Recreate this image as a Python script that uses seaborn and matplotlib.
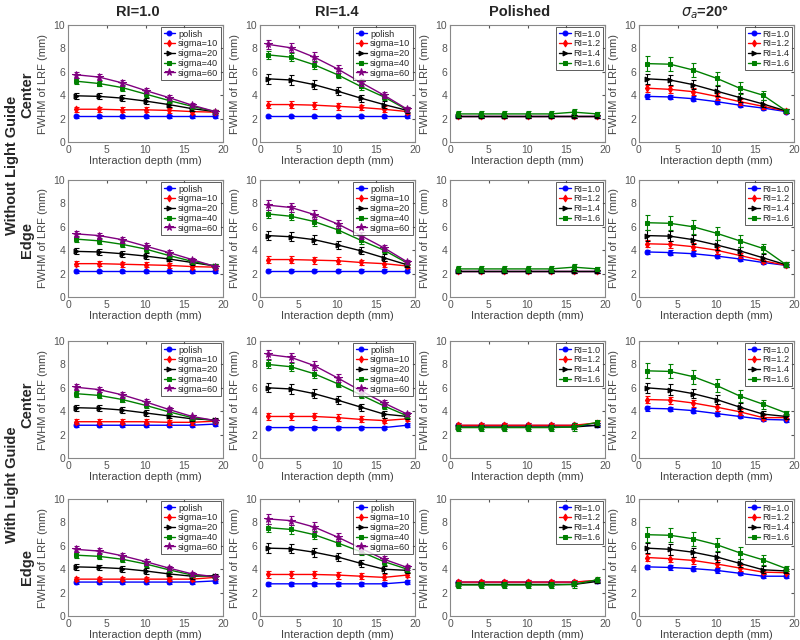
import numpy as np
import matplotlib
matplotlib.use("Agg")
import matplotlib.pyplot as plt
import seaborn as sns

# interaction depths (mm)
depth = [1, 4, 7, 10, 13, 16, 19]

sigma_labels = ["polish", "sigma=10", "sigma=20", "sigma=40", "sigma=60"]
ri_labels = ["RI=1.0", "RI=1.2", "RI=1.4", "RI=1.6"]
col_titles = ["RI=1.0", "RI=1.4", "Polished", r"$\sigma_a$=20°"]

# --- Without light guide, center ---
wo_c_ri10 = [[2.2, 2.2, 2.2, 2.2, 2.2, 2.2, 2.2],
             [2.8, 2.8, 2.75, 2.75, 2.7, 2.6, 2.55],
             [3.95, 3.9, 3.75, 3.5, 3.2, 2.85, 2.6],
             [5.2, 5.0, 4.65, 4.1, 3.55, 3.05, 2.6],
             [5.75, 5.55, 5.05, 4.4, 3.8, 3.15, 2.6]]
wo_c_ri14 = [[2.2, 2.2, 2.2, 2.2, 2.2, 2.2, 2.2],
             [3.2, 3.2, 3.15, 3.05, 2.95, 2.8, 2.6],
             [5.4, 5.3, 4.9, 4.35, 3.75, 3.2, 2.7],
             [7.45, 7.25, 6.6, 5.75, 4.75, 3.85, 2.75],
             [8.35, 8.05, 7.25, 6.25, 5.1, 4.0, 2.8]]
wo_c_pol = [[2.2, 2.2, 2.2, 2.2, 2.2, 2.2, 2.2],
            [2.2, 2.2, 2.2, 2.2, 2.2, 2.2, 2.2],
            [2.2, 2.2, 2.2, 2.2, 2.2, 2.2, 2.2],
            [2.4, 2.4, 2.4, 2.4, 2.4, 2.55, 2.4]]
wo_c_sa20 = [[3.9, 3.85, 3.7, 3.45, 3.15, 2.9, 2.6],
             [4.6, 4.5, 4.3, 3.9, 3.45, 3.05, 2.65],
             [5.4, 5.3, 4.9, 4.35, 3.8, 3.25, 2.65],
             [6.7, 6.65, 6.15, 5.45, 4.6, 4.0, 2.65]]

# --- Without light guide, edge ---
wo_e_ri10 = [[2.2, 2.2, 2.2, 2.2, 2.2, 2.2, 2.2],
             [2.85, 2.85, 2.8, 2.75, 2.7, 2.6, 2.55],
             [3.9, 3.85, 3.7, 3.5, 3.25, 2.95, 2.65],
             [4.95, 4.8, 4.5, 4.1, 3.55, 3.05, 2.65],
             [5.4, 5.25, 4.9, 4.35, 3.8, 3.2, 2.6]]
wo_e_ri14 = [[2.25, 2.25, 2.25, 2.25, 2.25, 2.25, 2.25],
             [3.2, 3.2, 3.15, 3.1, 2.95, 2.85, 2.65],
             [5.25, 5.15, 4.9, 4.45, 3.95, 3.35, 2.75],
             [7.1, 6.9, 6.45, 5.75, 4.85, 4.0, 2.9],
             [7.85, 7.65, 7.05, 6.25, 5.25, 4.2, 3.0]]
wo_e_pol = [[2.2, 2.2, 2.2, 2.2, 2.2, 2.2, 2.2],
            [2.2, 2.2, 2.2, 2.2, 2.2, 2.2, 2.2],
            [2.2, 2.2, 2.2, 2.2, 2.2, 2.2, 2.2],
            [2.4, 2.4, 2.4, 2.4, 2.4, 2.55, 2.4]]
wo_e_sa20 = [[3.85, 3.8, 3.7, 3.5, 3.25, 2.95, 2.7],
             [4.55, 4.5, 4.3, 4.0, 3.55, 3.1, 2.7],
             [5.25, 5.2, 4.9, 4.45, 3.95, 3.35, 2.75],
             [6.35, 6.3, 6.0, 5.45, 4.8, 4.15, 2.75]]

# --- With light guide, center ---
wi_c_ri10 = [[2.8, 2.8, 2.8, 2.8, 2.8, 2.8, 2.9],
             [3.1, 3.1, 3.1, 3.1, 3.05, 3.05, 3.15],
             [4.3, 4.25, 4.1, 3.85, 3.6, 3.35, 3.25],
             [5.5, 5.35, 5.0, 4.5, 3.95, 3.45, 3.2],
             [6.05, 5.85, 5.4, 4.8, 4.15, 3.55, 3.2]]
wi_c_ri14 = [[2.6, 2.6, 2.6, 2.6, 2.6, 2.6, 2.8],
             [3.55, 3.55, 3.55, 3.45, 3.3, 3.2, 3.35],
             [6.0, 5.9, 5.5, 4.95, 4.35, 3.75, 3.55],
             [8.0, 7.8, 7.2, 6.35, 5.4, 4.45, 3.6],
             [8.85, 8.6, 7.9, 6.85, 5.75, 4.7, 3.75]]
wi_c_pol = [[2.85, 2.85, 2.85, 2.85, 2.85, 2.85, 2.85],
            [2.8, 2.8, 2.8, 2.8, 2.8, 2.8, 3.0],
            [2.65, 2.65, 2.65, 2.65, 2.65, 2.65, 2.8],
            [2.6, 2.6, 2.6, 2.6, 2.6, 2.65, 3.05]]
wi_c_sa20 = [[4.25, 4.2, 4.05, 3.8, 3.55, 3.3, 3.25],
             [5.0, 4.95, 4.7, 4.35, 3.95, 3.45, 3.45],
             [6.0, 5.85, 5.5, 5.0, 4.35, 3.75, 3.55],
             [7.45, 7.4, 6.95, 6.2, 5.3, 4.6, 3.85]]

# --- With light guide, edge ---
wi_e_ri10 = [[2.9, 2.9, 2.9, 2.9, 2.9, 2.9, 3.0],
             [3.15, 3.15, 3.15, 3.15, 3.15, 3.15, 3.3],
             [4.2, 4.15, 4.05, 3.85, 3.6, 3.4, 3.45],
             [5.2, 5.1, 4.85, 4.45, 3.95, 3.5, 3.35],
             [5.7, 5.55, 5.15, 4.65, 4.1, 3.6, 3.35]]
wi_e_ri14 = [[2.75, 2.75, 2.75, 2.75, 2.75, 2.75, 2.9],
             [3.55, 3.55, 3.55, 3.5, 3.4, 3.3, 3.5],
             [5.8, 5.75, 5.45, 5.05, 4.5, 4.0, 3.9],
             [7.55, 7.4, 6.95, 6.25, 5.5, 4.65, 4.0],
             [8.3, 8.15, 7.6, 6.75, 5.8, 4.85, 4.15]]
wi_e_pol = [[2.9, 2.9, 2.9, 2.9, 2.9, 2.9, 3.0],
            [2.9, 2.9, 2.9, 2.9, 2.9, 2.9, 3.05],
            [2.7, 2.7, 2.7, 2.7, 2.7, 2.7, 2.95],
            [2.65, 2.65, 2.65, 2.65, 2.65, 2.7, 3.1]]
wi_e_sa20 = [[4.2, 4.15, 4.05, 3.9, 3.65, 3.4, 3.4],
             [5.0, 4.9, 4.75, 4.45, 4.1, 3.75, 3.7],
             [5.8, 5.7, 5.45, 5.05, 4.5, 3.95, 3.85],
             [6.95, 6.9, 6.6, 6.1, 5.4, 4.8, 4.05]]

# error bar half-widths per column type (series x depth)
err_ri10 = [[0.15, 0.15, 0.15, 0.15, 0.15, 0.15, 0.15],
            [0.2, 0.2, 0.2, 0.2, 0.2, 0.2, 0.15],
            [0.25, 0.25, 0.25, 0.25, 0.2, 0.2, 0.15],
            [0.25, 0.25, 0.25, 0.25, 0.2, 0.2, 0.15],
            [0.25, 0.25, 0.25, 0.25, 0.2, 0.15, 0.15]]
err_ri14 = [[0.15, 0.15, 0.15, 0.15, 0.15, 0.15, 0.15],
            [0.3, 0.3, 0.3, 0.3, 0.25, 0.25, 0.2],
            [0.4, 0.4, 0.4, 0.35, 0.3, 0.3, 0.2],
            [0.35, 0.35, 0.35, 0.3, 0.3, 0.25, 0.2],
            [0.4, 0.4, 0.4, 0.35, 0.3, 0.25, 0.2]]
err_pol = [[0.15, 0.15, 0.15, 0.15, 0.15, 0.15, 0.15],
           [0.15, 0.15, 0.15, 0.15, 0.15, 0.15, 0.15],
           [0.15, 0.15, 0.15, 0.15, 0.15, 0.15, 0.15],
           [0.25, 0.25, 0.25, 0.25, 0.25, 0.3, 0.2]]
err_sa20 = [[0.2, 0.2, 0.2, 0.2, 0.15, 0.15, 0.15],
            [0.3, 0.3, 0.3, 0.3, 0.25, 0.2, 0.15],
            [0.45, 0.45, 0.4, 0.4, 0.35, 0.3, 0.2],
            [0.65, 0.6, 0.6, 0.55, 0.5, 0.4, 0.2]]

sigma_colors = ["#0000ff", "#ff0000", "#000000", "#008000", "#800080"]
sigma_markers = ["o", "d", ">", "s", "*"]
ri_colors = ["#0000ff", "#ff0000", "#000000", "#008000"]
ri_markers = ["o", "d", ">", "s"]

panels = [
    [wo_c_ri10, wo_c_ri14, wo_c_pol, wo_c_sa20],
    [wo_e_ri10, wo_e_ri14, wo_e_pol, wo_e_sa20],
    [wi_c_ri10, wi_c_ri14, wi_c_pol, wi_c_sa20],
    [wi_e_ri10, wi_e_ri14, wi_e_pol, wi_e_sa20],
]
col_errs = [err_ri10, err_ri14, err_pol, err_sa20]

sns.set_style("white")
plt.rcParams["font.family"] = ["Liberation Sans", "DejaVu Sans"]
plt.rcParams["mathtext.fontset"] = "dejavusans"

fig = plt.figure(figsize=(8, 6.4), dpi=100)

col_left = [68, 260, 450, 639]
row_top = [25, 180, 341, 499]
ax_w, ax_h = 155, 117
W, H = 800, 640
tick_col = "#555555"

for r in range(4):
    for c in range(4):
        ax = fig.add_axes([col_left[c] / W, 1 - (row_top[r] + ax_h) / H, ax_w / W, ax_h / H])
        if c < 2:
            labels, colors, markers = sigma_labels, sigma_colors, sigma_markers
        else:
            labels, colors, markers = ri_labels, ri_colors, ri_markers
        series = panels[r][c]
        errs = col_errs[c]
        for i, vals in enumerate(series):
            ms = 5.5 if markers[i] == "*" else 3.5
            sns.lineplot(x=depth, y=vals, ax=ax, color=colors[i], marker=markers[i],
                         markersize=ms, markeredgecolor=colors[i], linewidth=1,
                         label=labels[i])
            ax.errorbar(depth, vals, yerr=errs[i], fmt="none", ecolor=colors[i],
                        elinewidth=0.8, capsize=1.8, capthick=0.8)
        ax.set_xlim(0, 20)
        ax.set_ylim(0, 10)
        ax.set_xticks([0, 5, 10, 15, 20])
        ax.set_yticks([0, 2, 4, 6, 8, 10])
        ax.tick_params(direction="in", top=True, right=True, length=2.5, pad=2,
                       labelsize=7.5, colors=tick_col, labelcolor=tick_col)
        for sp in ax.spines.values():
            sp.set_color("#888888")
            sp.set_linewidth(0.8)
        ax.set_xlabel("Interaction depth (mm)", fontsize=8, color="#444444", labelpad=1)
        ax.set_ylabel("FWHM of LRF (mm)", fontsize=8, color="#444444", labelpad=4)
        leg = ax.legend(loc="upper right", fontsize=6.6, handlelength=1.3,
                        borderpad=0.25, labelspacing=0.08, handletextpad=0.3,
                        borderaxespad=0.25, frameon=True, fancybox=False)
        leg.get_frame().set_edgecolor("#333333")
        leg.get_frame().set_linewidth(0.7)

# column titles
col_title_x = [138, 337, 520, 705]
for c, t in enumerate(col_titles):
    fig.text(col_title_x[c] / W, 1 - 12 / H, t, ha="center", va="center",
             fontsize=10.5, fontweight="bold")

# row labels
fig.text(12 / W, 1 - 165 / H, "Without Light Guide", rotation=90, ha="center",
         va="center", fontsize=10.5, fontweight="bold")
fig.text(12 / W, 1 - 485 / H, "With Light Guide", rotation=90, ha="center",
         va="center", fontsize=10.5, fontweight="bold")
row_sub = [("Center", 95), ("Edge", 240), ("Center", 405), ("Edge", 567)]
for txt, y in row_sub:
    fig.text(27 / W, 1 - y / H, txt, rotation=90, ha="center", va="center",
             fontsize=10.5, fontweight="bold")

fig.savefig("out.png", dpi=100, facecolor="white")
